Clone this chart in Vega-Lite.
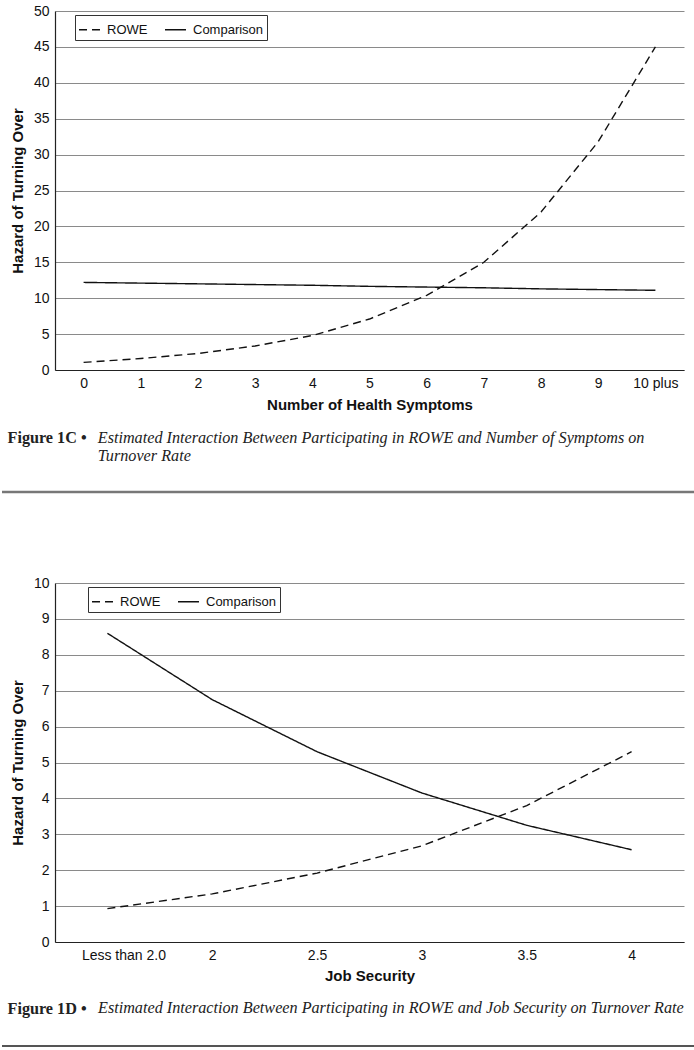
{
  "$schema": "https://vega.github.io/schema/vega-lite/v6.json",
  "padding": {"left": 0, "right": 0, "top": 4, "bottom": 0},
  "spacing": 91,
  "bounds": "flush",
  "center": true,
  "background": "white",
  "config": {
    "font": "Liberation Sans",
    "view": {"stroke": null},
    "axis": {
      "ticks": false,
      "domainColor": "#222",
      "domainWidth": 1.2,
      "gridColor": "#8a8a8a",
      "gridWidth": 1,
      "labelFont": "Liberation Sans",
      "labelFontSize": 14,
      "labelColor": "#111",
      "titleFont": "Liberation Sans",
      "titleFontSize": 15,
      "titleFontWeight": "bold",
      "titleColor": "#111"
    },
    "legend": {
      "labelFont": "Liberation Sans",
      "labelFontSize": 13,
      "labelColor": "#111",
      "strokeColor": "#333",
      "padding": 3,
      "fillColor": "white"
    },
    "title": {
      "font": "Liberation Serif",
      "fontSize": 16.2,
      "fontStyle": "italic",
      "fontWeight": "normal",
      "color": "#222",
      "anchor": "start",
      "lineHeight": 18
    }
  },
  "resolve": {"scale": {"strokeDash": "independent"}, "legend": {"strokeDash": "independent"}},
  "vconcat": [
    {
      "width": 629,
      "height": 359,
      "data": {"values": [
        {"x": "0", "group": "ROWE", "hazard": 1.06},
        {"x": "1", "group": "ROWE", "hazard": 1.6},
        {"x": "2", "group": "ROWE", "hazard": 2.3},
        {"x": "3", "group": "ROWE", "hazard": 3.35},
        {"x": "4", "group": "ROWE", "hazard": 4.8},
        {"x": "5", "group": "ROWE", "hazard": 7.1},
        {"x": "6", "group": "ROWE", "hazard": 10.4},
        {"x": "7", "group": "ROWE", "hazard": 15.0},
        {"x": "8", "group": "ROWE", "hazard": 22.0},
        {"x": "9", "group": "ROWE", "hazard": 31.8},
        {"x": "10 plus", "group": "ROWE", "hazard": 45.0},
        {"x": "0", "group": "Comparison", "hazard": 12.2},
        {"x": "1", "group": "Comparison", "hazard": 12.1},
        {"x": "2", "group": "Comparison", "hazard": 12.0},
        {"x": "3", "group": "Comparison", "hazard": 11.9},
        {"x": "4", "group": "Comparison", "hazard": 11.8},
        {"x": "5", "group": "Comparison", "hazard": 11.65},
        {"x": "6", "group": "Comparison", "hazard": 11.55},
        {"x": "7", "group": "Comparison", "hazard": 11.45},
        {"x": "8", "group": "Comparison", "hazard": 11.3},
        {"x": "9", "group": "Comparison", "hazard": 11.2},
        {"x": "10 plus", "group": "Comparison", "hazard": 11.1}
      ]},
      "mark": {"type": "line", "color": "#111", "strokeWidth": 1.4},
      "encoding": {
        "x": {"field": "x", "type": "ordinal", "sort": null,
              "scale": {"type": "point", "padding": 0.5},
              "axis": {"title": "Number of Health Symptoms", "labelAngle": 0, "labelPadding": 6, "titlePadding": 7}},
        "y": {"field": "hazard", "type": "quantitative",
              "scale": {"domain": [0, 50], "nice": false},
              "axis": {"title": "Hazard of Turning Over", "values": [0,5,10,15,20,25,30,35,40,45,50], "labelPadding": 6, "titlePadding": 8, "grid": true}},
        "strokeDash": {"field": "group", "type": "nominal",
              "scale": {"domain": ["ROWE", "Comparison"], "range": [[8, 5], [1, 0]]},
              "legend": {"title": null, "orient": "none", "legendX": 20, "legendY": 4, "direction": "horizontal",
                         "symbolType": "stroke", "symbolSize": 440, "symbolStrokeColor": "#111", "symbolStrokeWidth": 1.4,
                         "labelOffset": 6, "columnPadding": 14}}
      }
    },
    {
      "width": 735,
      "height": 31,
      "title": {"text": ["Estimated Interaction Between Participating in ROWE and Number of Symptoms on", "Turnover Rate"], "dx": 97, "offset": -35},
      "data": {"values": [{"v": 0}]},
      "mark": {"type": "rule", "color": "#777", "strokeWidth": 2.5},
      "encoding": {"y": {"field": "v", "type": "quantitative", "scale": {"domain": [0, 1]},
        "axis": {"title": "Figure 1C •", "labels": false, "domain": false, "ticks": false, "grid": false,
                 "titleX": 5, "titleY": -24, "titleAngle": 0, "titleAlign": "left", "titleBaseline": "middle",
                 "titleFont": "Liberation Serif", "titleFontSize": 16.2, "titleFontWeight": "bold", "titleColor": "#222"}}}
    },
    {
      "width": 629,
      "height": 359,
      "data": {"values": [
        {"x": "Less than 2.0", "group": "ROWE", "hazard": 0.93},
        {"x": "2", "group": "ROWE", "hazard": 1.34},
        {"x": "2.5", "group": "ROWE", "hazard": 1.92},
        {"x": "3", "group": "ROWE", "hazard": 2.68},
        {"x": "3.5", "group": "ROWE", "hazard": 3.8},
        {"x": "4", "group": "ROWE", "hazard": 5.3},
        {"x": "Less than 2.0", "group": "Comparison", "hazard": 8.6},
        {"x": "2", "group": "Comparison", "hazard": 6.75},
        {"x": "2.5", "group": "Comparison", "hazard": 5.3},
        {"x": "3", "group": "Comparison", "hazard": 4.15},
        {"x": "3.5", "group": "Comparison", "hazard": 3.25},
        {"x": "4", "group": "Comparison", "hazard": 2.57}
      ]},
      "mark": {"type": "line", "color": "#111", "strokeWidth": 1.4},
      "encoding": {
        "x": {"field": "x", "type": "ordinal", "sort": null,
              "scale": {"type": "point", "padding": 0.5},
              "axis": {"title": "Job Security", "labelAngle": 0, "labelPadding": 6, "titlePadding": 6,
                       "labelOffset": {"condition": {"test": "datum.value === 'Less than 2.0'", "value": 16}, "value": 0}}},
        "y": {"field": "hazard", "type": "quantitative",
              "scale": {"domain": [0, 10], "nice": false},
              "axis": {"title": "Hazard of Turning Over", "values": [0,1,2,3,4,5,6,7,8,9,10], "labelPadding": 6, "titlePadding": 8, "grid": true}},
        "strokeDash": {"field": "group", "type": "nominal",
              "scale": {"domain": ["ROWE", "Comparison"], "range": [[8, 5], [1, 0]]},
              "legend": {"title": null, "orient": "none", "legendX": 33, "legendY": 4, "direction": "horizontal",
                         "symbolType": "stroke", "symbolSize": 440, "symbolStrokeColor": "#111", "symbolStrokeWidth": 1.4,
                         "labelOffset": 6, "columnPadding": 14}}
      }
    },
    {
      "width": 735,
      "height": 13,
      "title": {"text": "Estimated Interaction Between Participating in ROWE and Job Security on Turnover Rate", "dx": 97, "offset": -16},
      "data": {"values": [{"v": 0}]},
      "mark": {"type": "rule", "color": "#555", "strokeWidth": 2},
      "encoding": {"y": {"field": "v", "type": "quantitative", "scale": {"domain": [0, 1]},
        "axis": {"title": "Figure 1D •", "labels": false, "domain": false, "ticks": false, "grid": false,
                 "titleX": 5, "titleY": -25, "titleAngle": 0, "titleAlign": "left", "titleBaseline": "middle",
                 "titleFont": "Liberation Serif", "titleFontSize": 16.2, "titleFontWeight": "bold", "titleColor": "#222"}}}
    }
  ]
}
